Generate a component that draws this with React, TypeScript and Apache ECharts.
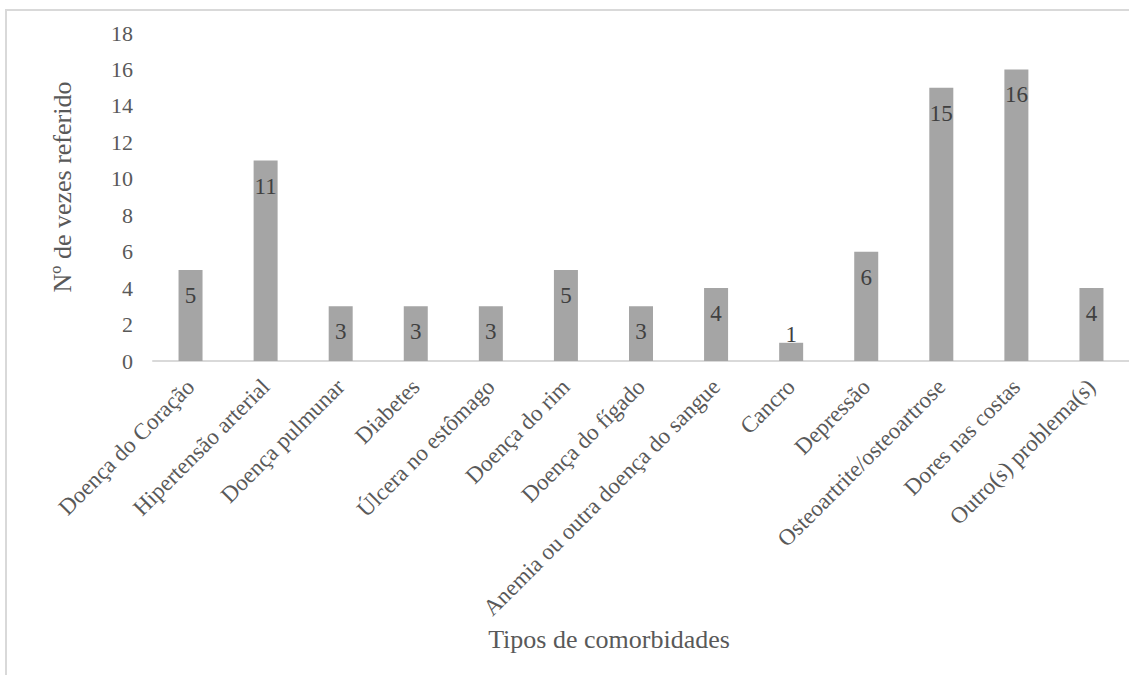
import React, { useEffect, useRef } from "react";
import * as echarts from "echarts";

const categories = [
  "Doença do Coração",
  "Hipertensão arterial",
  "Doença pulmunar",
  "Diabetes",
  "Úlcera no estômago",
  "Doença do rim",
  "Doença do fígado",
  "Anemia ou outra doença do sangue",
  "Cancro",
  "Depressão",
  "Osteoartrite/osteoartrose",
  "Dores nas costas",
  "Outro(s) problema(s)",
];

const counts = [5, 11, 3, 3, 3, 5, 3, 4, 1, 6, 15, 16, 4];

const yAxisTitle = "Nº de vezes referido";
const xAxisTitle = "Tipos de comorbidades";

const FONT = "Liberation Serif";

export default function App() {
  const ref = useRef<HTMLDivElement>(null);

  useEffect(() => {
    if (!ref.current) return;
    const chart = echarts.init(ref.current, undefined, { renderer: "svg" });

    // Very short bars can't hold their label, so it sits just above them
    const barData = counts.map((v) =>
      v < 2
        ? { value: v, label: { position: "top" as const, distance: -3 } }
        : { value: v }
    );

    chart.setOption({
      animation: false,
      backgroundColor: "#ffffff",
      textStyle: { fontFamily: FONT },
      graphic: [
        {
          type: "rect",
          shape: { x: 6, y: 10, width: 1300, height: 900 },
          style: { fill: "none", stroke: "#d9d9d9", lineWidth: 2 },
          silent: true,
        },
      ],
      grid: { left: 153, right: 0, top: 33, bottom: 314, containLabel: false },
      xAxis: {
        type: "category",
        data: categories,
        axisLine: { show: true, lineStyle: { color: "#d9d9d9", width: 2 } },
        axisTick: { show: false },
        axisLabel: {
          interval: 0,
          rotate: 45,
          margin: 22,
          fontSize: 23,
          color: "#595959",
          fontFamily: FONT,
        },
        name: xAxisTitle,
        nameLocation: "middle",
        nameGap: 265,
        nameTextStyle: {
          fontSize: 26,
          color: "#595959",
          fontFamily: FONT,
          padding: [0, 64, 0, 0],
        },
      },
      yAxis: {
        type: "value",
        min: 0,
        max: 18,
        interval: 2,
        axisLine: { show: false },
        axisTick: { show: false },
        splitLine: { show: false },
        axisLabel: { fontSize: 22, color: "#595959", margin: 20, fontFamily: FONT },
        name: yAxisTitle,
        nameLocation: "middle",
        nameGap: 78,
        nameRotate: 90,
        nameTextStyle: {
          fontSize: 26,
          color: "#595959",
          fontFamily: FONT,
          padding: [0, 0, 0, 20],
        },
      },
      series: [
        {
          type: "bar",
          data: barData,
          barWidth: 24,
          itemStyle: { color: "#a5a5a5" },
          label: {
            show: true,
            position: "insideTop",
            distance: 14,
            fontSize: 23,
            color: "#404040",
            fontFamily: FONT,
          },
        },
      ],
    });

    return () => chart.dispose();
  }, []);

  return (
    <div
      ref={ref}
      style={{ position: "fixed", left: 0, top: 0, width: 1129, height: 675 }}
    />
  );
}
